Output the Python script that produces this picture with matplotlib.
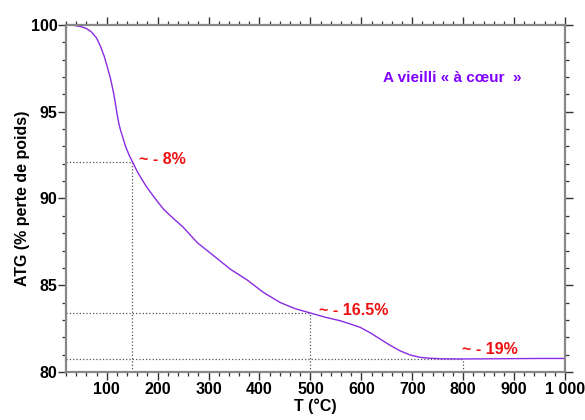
import matplotlib
matplotlib.use("Agg")
import matplotlib.pyplot as plt
from matplotlib.ticker import MultipleLocator, FixedLocator, FixedFormatter

# courbe ATG
temp = [20, 35, 50, 60, 70, 80, 88, 95, 101, 108, 114, 118, 121, 124, 127, 131,
        137, 144, 150, 160, 170, 180, 195, 212, 229, 250, 278, 310, 343, 376, 408,
        441, 470, 500, 530, 559, 580, 598, 618, 637, 656, 676, 696, 716, 735, 760,
        800, 850, 900, 950, 1000]
atg = [100.0, 99.98, 99.9, 99.8, 99.6, 99.25, 98.75, 98.2, 97.6, 96.84, 96.0,
       95.3, 94.75, 94.3, 93.95, 93.58, 93.0, 92.5, 92.15, 91.55, 91.05, 90.6,
       90.0, 89.37, 88.9, 88.35, 87.45, 86.7, 85.92, 85.3, 84.58, 84.0, 83.65,
       83.4, 83.15, 82.95, 82.75, 82.57, 82.25, 81.9, 81.55, 81.22, 80.98, 80.84,
       80.79, 80.76, 80.75, 80.76, 80.77, 80.78, 80.78]

# reperes en pointilles (T, ATG, texte)
mark_t = [150, 500, 800]
mark_y = [92.13, 83.4, 80.75]
mark_txt = ["~ - 8%", "~ - 16.5%", "~ - 19%"]
txt_pos = [(163, 92.25), (516, 83.55), (798, 81.3)]

xticks = [100, 200, 300, 400, 500, 600, 700, 800, 900, 1000]
xlabels = ["100", "200", "300", "400", "500", "600", "700", "800", "900", "1 000"]

plt.rcParams['font.family'] = ['Liberation Sans', 'DejaVu Sans']
plt.rcParams['font.weight'] = 'bold'

fig = plt.figure(figsize=(5.85, 4.2), dpi=100)
ax = fig.add_axes([0.1128, 0.1143, 0.853, 0.8262])

for t, y in zip(mark_t, mark_y):
    ax.plot([20, t], [y, y], linestyle=':', color='#555555', lw=0.9)
    ax.plot([t, t], [80, y], linestyle=':', color='#555555', lw=0.9)

ax.plot(temp, atg, color='#8A2BE2', lw=1.0)

for s, (tx, ty) in zip(mark_txt, txt_pos):
    ax.text(tx, ty, s, color='#EE1111', fontsize=11.5, fontweight='bold',
            va='center', ha='left')

ax.text(778, 96.95, "A vieilli « à cœur  »", color='#8000FF', fontsize=11,
        fontweight='bold', ha='center', va='center')

ax.set_xlim(20, 1000)
ax.set_ylim(80, 100)
ax.xaxis.set_major_locator(FixedLocator(xticks))
ax.xaxis.set_major_formatter(FixedFormatter(xlabels))
ax.xaxis.set_minor_locator(MultipleLocator(20))
ax.yaxis.set_major_locator(MultipleLocator(5))
ax.yaxis.set_minor_locator(MultipleLocator(1))

ax.tick_params(which='both', direction='out', top=True, right=True,
               labeltop=False, labelright=False, color='#333333')
ax.tick_params(which='major', length=5.5, width=1.0, labelsize=11.5)
ax.tick_params(which='minor', length=3.2, width=0.9)
ax.tick_params(axis='x', which='major', pad=2)
ax.tick_params(axis='y', which='major', pad=0.5)
for lab in ax.get_xticklabels() + ax.get_yticklabels():
    lab.set_fontweight('bold')

for sp in ax.spines.values():
    sp.set_color('#888888')
    sp.set_linewidth(1.6)

ax.set_xlabel("T (°C)", fontsize=11.5, fontweight='bold', labelpad=1)
ax.set_ylabel("ATG (% perte de poids)", fontsize=11.5, fontweight='bold', labelpad=0.5)

fig.savefig("out.png", dpi=100)
